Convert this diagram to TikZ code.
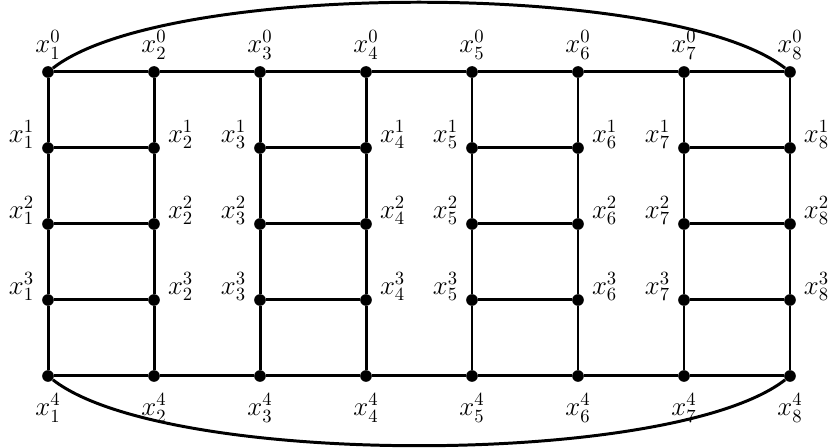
\documentclass[tikz,border=0pt]{standalone}
\usepackage{tikz}
\usetikzlibrary{positioning}
\tikzset{
    vtx/.style={circle, fill=black, draw=none, inner sep=0pt, minimum size=2.2mm},
    edge/.style={line width=1.6pt, black},
    lblT/.style={label={[font=\Large, inner sep=0pt, label distance=1.2mm]above:#1}},
    lblB/.style={label={[font=\Large, inner sep=0pt, label distance=2.1mm]below:#1}},
    lblL/.style={label={[font=\Large, inner sep=0pt, label distance=1.4mm, yshift=2.5mm]left:#1}},
    lblR/.style={label={[font=\Large, inner sep=0pt, label distance=1.4mm, yshift=2.5mm]right:#1}},
}

\begin{document}
\begin{tikzpicture}[x=1cm, y=1.434cm]

        \useasboundingbox (-0.906,-4.947) rectangle (14.717,0.947);

% =========================================================
% Vertices, column by column
% =========================================================

% column 1
        \node[vtx, lblT={$x_1^0$}] (v10) at (0, 0) {};
        \node[vtx, lblL={$x_1^1$}] (v11) at (0,-1) {};
        \node[vtx, lblL={$x_1^2$}] (v12) at (0,-2) {};
        \node[vtx, lblL={$x_1^3$}] (v13) at (0,-3) {};
        \node[vtx, lblB={$x_1^4$}] (v14) at (0,-4) {};

% column 2
        \node[vtx, lblT={$x_2^0$}] (v20) at (2, 0) {};
        \node[vtx, lblR={$x_2^1$}] (v21) at (2,-1) {};
        \node[vtx, lblR={$x_2^2$}] (v22) at (2,-2) {};
        \node[vtx, lblR={$x_2^3$}] (v23) at (2,-3) {};
        \node[vtx, lblB={$x_2^4$}] (v24) at (2,-4) {};

% column 3
        \node[vtx, lblT={$x_3^0$}] (v30) at (4, 0) {};
        \node[vtx, lblL={$x_3^1$}] (v31) at (4,-1) {};
        \node[vtx, lblL={$x_3^2$}] (v32) at (4,-2) {};
        \node[vtx, lblL={$x_3^3$}] (v33) at (4,-3) {};
        \node[vtx, lblB={$x_3^4$}] (v34) at (4,-4) {};

% column 4
        \node[vtx, lblT={$x_4^0$}] (v40) at (6, 0) {};
        \node[vtx, lblR={$x_4^1$}] (v41) at (6,-1) {};
        \node[vtx, lblR={$x_4^2$}] (v42) at (6,-2) {};
        \node[vtx, lblR={$x_4^3$}] (v43) at (6,-3) {};
        \node[vtx, lblB={$x_4^4$}] (v44) at (6,-4) {};

% column 5
        \node[vtx, lblT={$x_5^0$}] (v50) at (8, 0) {};
        \node[vtx, lblL={$x_5^1$}] (v51) at (8,-1) {};
        \node[vtx, lblL={$x_5^2$}] (v52) at (8,-2) {};
        \node[vtx, lblL={$x_5^3$}] (v53) at (8,-3) {};
        \node[vtx, lblB={$x_5^4$}] (v54) at (8,-4) {};

% column 6
        \node[vtx, lblT={$x_6^0$}] (v60) at (10, 0) {};
        \node[vtx, lblR={$x_6^1$}] (v61) at (10,-1) {};
        \node[vtx, lblR={$x_6^2$}] (v62) at (10,-2) {};
        \node[vtx, lblR={$x_6^3$}] (v63) at (10,-3) {};
        \node[vtx, lblB={$x_6^4$}] (v64) at (10,-4) {};

% column 7
        \node[vtx, lblT={$x_7^0$}] (v70) at (12, 0) {};
        \node[vtx, lblL={$x_7^1$}] (v71) at (12,-1) {};
        \node[vtx, lblL={$x_7^2$}] (v72) at (12,-2) {};
        \node[vtx, lblL={$x_7^3$}] (v73) at (12,-3) {};
        \node[vtx, lblB={$x_7^4$}] (v74) at (12,-4) {};

% column 8
        \node[vtx, lblT={$x_8^0$}] (v80) at (14, 0) {};
        \node[vtx, lblR={$x_8^1$}] (v81) at (14,-1) {};
        \node[vtx, lblR={$x_8^2$}] (v82) at (14,-2) {};
        \node[vtx, lblR={$x_8^3$}] (v83) at (14,-3) {};
        \node[vtx, lblB={$x_8^4$}] (v84) at (14,-4) {};

% =========================================================
% Edges
% =========================================================

% top and bottom rails
        \draw[edge] (v10) -- (v20) -- (v30) -- (v40) -- (v50) -- (v60) -- (v70) -- (v80);
        \draw[edge] (v14) -- (v24) -- (v34) -- (v44) -- (v54) -- (v64) -- (v74) -- (v84);

% columns
        \draw[edge] (v10) -- (v11) -- (v12) -- (v13) -- (v14);
        \draw[edge] (v20) -- (v21) -- (v22) -- (v23) -- (v24);
        \draw[edge] (v30) -- (v31) -- (v32) -- (v33) -- (v34);
        \draw[edge] (v40) -- (v41) -- (v42) -- (v43) -- (v44);
        \draw[edge] (v50) -- (v51) -- (v52) -- (v53) -- (v54);
        \draw[edge] (v60) -- (v61) -- (v62) -- (v63) -- (v64);
        \draw[edge] (v70) -- (v71) -- (v72) -- (v73) -- (v74);
        \draw[edge] (v80) -- (v81) -- (v82) -- (v83) -- (v84);

% rungs inside each ladder
        \draw[edge] (v11) -- (v21);  \draw[edge] (v12) -- (v22);  \draw[edge] (v13) -- (v23);
        \draw[edge] (v31) -- (v41);  \draw[edge] (v32) -- (v42);  \draw[edge] (v33) -- (v43);
        \draw[edge] (v51) -- (v61);  \draw[edge] (v52) -- (v62);  \draw[edge] (v53) -- (v63);
        \draw[edge] (v71) -- (v81);  \draw[edge] (v72) -- (v82);  \draw[edge] (v73) -- (v83);

% outer arcs closing the cycle
        \draw[edge] (v10) to[out=38, in=142, looseness=0.5] (v80);
        \draw[edge] (v14) to[out=-38, in=-142, looseness=0.5] (v84);

    \end{tikzpicture}
\end{document}
